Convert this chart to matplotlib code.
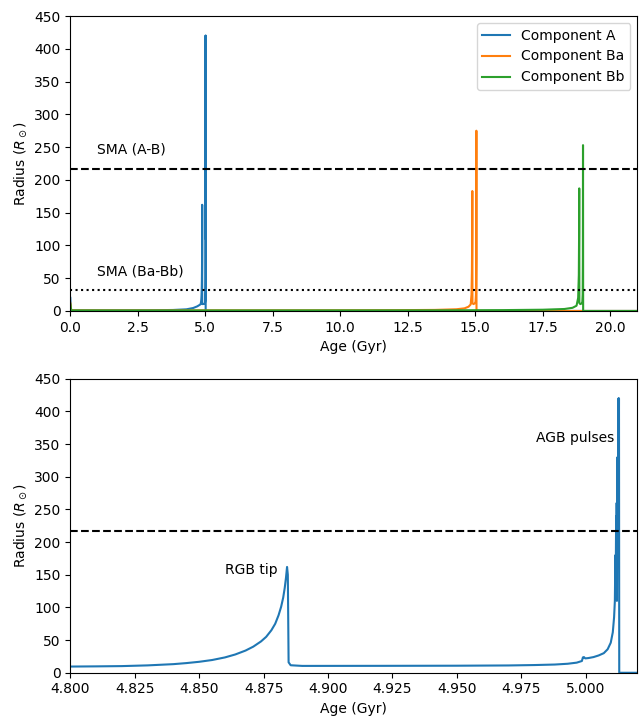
import matplotlib
matplotlib.use("Agg")
import matplotlib.pyplot as plt

# ---------------- data ----------------
age_A = [0.0, 0.02, 0.05, 1.0, 2.0, 3.0, 3.8, 4.3, 4.55, 4.7, 4.76,
         4.800, 4.810, 4.815, 4.820, 4.830, 4.840, 4.845, 4.850, 4.855, 4.860,
         4.864, 4.868, 4.871, 4.874, 4.876, 4.878, 4.8795, 4.8808, 4.8818,
         4.8826, 4.8832, 4.8837, 4.8841, 4.8844, 4.8847, 4.8855,
         4.890, 4.920, 4.950, 4.970, 4.980, 4.988, 4.993, 4.9965, 4.9985, 4.9989,
         4.9993, 4.9998, 5.0010, 5.0030, 5.0050, 5.0070, 5.0085, 5.0097, 5.0105,
         5.0110, 5.0113, 5.0115, 5.0116, 5.0118, 5.0119, 5.0120, 5.0121, 5.0123,
         5.0124, 5.0125, 5.0126, 5.0127, 5.0128, 5.0129, 5.0130, 21.0]
rad_A = [20.0, 3.0, 1.0, 0.95, 1.0, 1.1, 1.5, 2.5, 4.5, 7.0, 8.5,
         9.5, 9.8, 10.0, 10.2, 11.3, 13.2, 14.8, 16.8, 19.5, 23.5,
         28.0, 34.0, 40.0, 48.0, 55.0, 65.0, 75.0, 88.0, 101.0,
         115.0, 130.0, 146.0, 162.0, 150.0, 16.0, 11.5,
         10.5, 10.6, 10.8, 11.2, 11.8, 12.6, 13.8, 15.5, 18.0, 23.5,
         24.0, 22.0, 22.5, 24.0, 26.5, 30.0, 36.0, 46.0, 62.0,
         85.0, 110.0, 180.0, 120.0, 240.0, 135.0, 260.0, 110.0, 330.0,
         200.0, 290.0, 230.0, 420.0, 250.0, 420.0, 0.0, 0.0]

age_Ba = [0.0, 0.03, 0.06, 2.0, 5.0, 8.0, 10.0, 12.0, 13.5, 14.3, 14.6,
          14.75, 14.83, 14.86, 14.875, 14.885, 14.89, 14.895, 14.93, 14.98,
          15.01, 15.025, 15.035, 15.04, 15.045, 21.0]
rad_Ba = [12.0, 2.0, 0.9, 0.85, 0.9, 0.95, 1.0, 1.2, 1.6, 2.6, 4.0,
          6.5, 10.0, 25.0, 60.0, 120.0, 183.0, 12.0, 10.5, 11.5,
          14.0, 25.0, 80.0, 275.0, 0.0, 0.0]

age_Bb = [0.0, 0.03, 0.06, 2.0, 5.0, 8.0, 11.0, 14.0, 16.0, 17.5, 18.3,
          18.6, 18.75, 18.81, 18.835, 18.845, 18.85, 18.855, 18.89, 18.94,
          18.965, 18.978, 18.985, 18.99, 18.995, 21.0]
rad_Bb = [10.0, 2.0, 0.8, 0.75, 0.8, 0.85, 0.9, 1.0, 1.3, 1.9, 3.0,
          4.8, 8.0, 20.0, 55.0, 120.0, 187.0, 12.0, 10.5, 11.5,
          14.0, 25.0, 80.0, 253.0, 0.0, 0.0]

sma_AB = 217.0
sma_BaBb = 32.0

labels = ["Component A", "Component Ba", "Component Bb"]
colors = ["#1f77b4", "#ff7f0e", "#2ca02c"]

rgb_tip = (4.8805, 157.0)
agb_lab = (5.011, 360.0)

# ---------------- figure ----------------
fig = plt.figure(figsize=(6.41, 7.18), dpi=100)
ax1 = fig.add_axes([0.1097, 0.5669, 0.8845, 0.4108])
ax2 = fig.add_axes([0.1097, 0.0630, 0.8845, 0.4094])

ax1.plot(age_A, rad_A, color=colors[0], label=labels[0])
ax1.plot(age_Ba, rad_Ba, color=colors[1], label=labels[1])
ax1.plot(age_Bb, rad_Bb, color=colors[2], label=labels[2])
ax1.axhline(sma_AB, color="k", ls="--", lw=1.5)
ax1.axhline(sma_BaBb, color="k", ls=":", lw=1.5)
ax1.text(1.0, sma_AB + 18, "SMA (A-B)", fontsize=10, va="bottom", ha="left")
ax1.text(1.0, sma_BaBb + 18, "SMA (Ba-Bb)", fontsize=10, va="bottom", ha="left")
ax1.set_xlim(0, 21)
ax1.set_ylim(0, 450)
ax1.set_yticks(range(0, 451, 50))
ax1.set_xlabel("Age (Gyr)")
ax1.set_ylabel(r"Radius ($R_\odot$)")
ax1.legend(loc="upper right")

ax2.plot(age_A, rad_A, color=colors[0])
ax2.axhline(sma_AB, color="k", ls="--", lw=1.5)
ax2.text(rgb_tip[0], rgb_tip[1], "RGB tip", fontsize=10, ha="right", va="center")
ax2.text(agb_lab[0], agb_lab[1], "AGB pulses", fontsize=10, ha="right", va="center")
ax2.set_xlim(4.8, 5.02)
ax2.set_ylim(0, 450)
ax2.set_yticks(range(0, 451, 50))
ax2.set_xticks([4.8, 4.825, 4.85, 4.875, 4.9, 4.925, 4.95, 4.975, 5.0])
ax2.set_xticklabels(["4.800", "4.825", "4.850", "4.875", "4.900", "4.925",
                     "4.950", "4.975", "5.000"])
ax2.set_xlabel("Age (Gyr)")
ax2.set_ylabel(r"Radius ($R_\odot$)")

fig.savefig("out.png", dpi=100)
